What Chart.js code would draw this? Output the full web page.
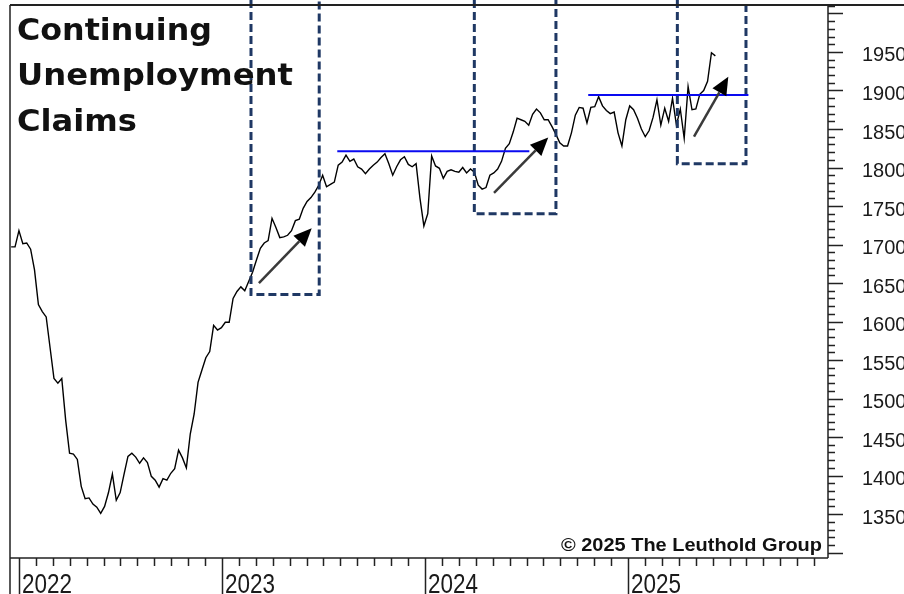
<!DOCTYPE html>
<html>
<head>
<meta charset="utf-8">
<script src="https://cdn.jsdelivr.net/npm/chart.js@4.4.1/dist/chart.umd.min.js"></script>
<style>
  html, body { margin: 0; padding: 0; background: #fff; }
</style>
</head>
<body>
<canvas id="claimsChart" width="904" height="594"></canvas>
<script>
// weekly continuing claims (thousands), first week ending 2021-12-18
const firstWeek = new Date(2021, 11, 18);
const claims = [
  1697, 1697, 1718, 1701, 1702, 1694, 1667, 1622, 1613, 1606,
  1566, 1526, 1520, 1526, 1472, 1429, 1428, 1421, 1386, 1370,
  1371, 1363, 1359, 1351, 1360, 1378, 1402, 1368, 1378, 1402,
  1425, 1429, 1424, 1416, 1423, 1417, 1399, 1394, 1385, 1396,
  1394, 1403, 1409, 1433, 1423, 1410, 1454, 1480, 1521, 1537,
  1553, 1561, 1595, 1589, 1592, 1599, 1599, 1630, 1639, 1645,
  1640, 1652, 1664, 1680, 1695, 1702, 1705, 1734, 1722, 1709,
  1710, 1712, 1718, 1731, 1733, 1747, 1756, 1761, 1768, 1777,
  1790, 1775, 1778, 1781, 1803, 1807, 1816, 1808, 1811, 1801,
  1798, 1792, 1798, 1803, 1807, 1813, 1818, 1805, 1790, 1801,
  1810, 1814, 1804, 1801, 1805, 1760, 1724, 1740, 1815, 1802,
  1799, 1786, 1795, 1797, 1795, 1794, 1800, 1793, 1798, 1794,
  1777, 1772, 1774, 1790, 1793, 1798, 1808, 1825, 1831, 1846,
  1864, 1862, 1860, 1855, 1869, 1876, 1871, 1862, 1862, 1853,
  1843, 1832, 1828, 1828, 1845, 1868, 1878, 1877, 1858, 1878,
  1879, 1892, 1880, 1874, 1870, 1872, 1845, 1828, 1862, 1880,
  1875, 1864, 1850, 1840, 1848, 1865, 1888, 1855, 1877, 1860,
  1890, 1855, 1876, 1838, 1905, 1875, 1876, 1895, 1900, 1912,
  1949, 1945
];

const yearTicks = [2022, 2023, 2024, 2025];
const yMajorLabels = [1350, 1400, 1450, 1500, 1550, 1600, 1650, 1700, 1750, 1800, 1850, 1900, 1950];

// annotations (decimal year / claims level)
const boxStart = [2023.143, 2024.243, 2025.243];
const boxEnd = [2023.479, 2024.645, 2025.581];
const boxBottom = [1635, 1740, 1805];
const lineStart = [2023.568, 2024.804];
const lineEnd = [2024.514, 2025.593];
const lineLevel = [1821, 1894];
const arrowFrom = [[2023.182, 1650], [2024.340, 1767], [2025.325, 1840]];
const arrowTo = [[2023.442, 1721], [2024.607, 1839], [2025.494, 1918]];

const titleLines = ['Continuing', 'Unemployment', 'Claims'];
const creditText = '\u00a9 2025 The Leuthold Group';

function decimalYear(d) {
  const y = d.getFullYear();
  const a = new Date(y, 0, 1);
  const b = new Date(y + 1, 0, 1);
  return y + (d - a) / (b - a);
}

const points = claims.map((v, i) => {
  const d = new Date(firstWeek.getTime() + i * 7 * 86400000);
  return { x: decimalYear(d), y: v };
});

const monthTicks = [];
for (let y = 2022; y <= 2025; y++) {
  for (let m = 0; m < 12; m++) monthTicks.push(y + m / 12);
}
const levelTicks = [];
for (let v = 1300; v <= 2010; v += 10) levelTicks.push(v);

function stretchText(ctx, text, x, y, width) {
  const w = ctx.measureText(text).width;
  ctx.save();
  ctx.translate(x, y);
  ctx.scale(width / w, 1);
  ctx.fillText(text, 0, 0);
  ctx.restore();
}

function noPadding(s) {
  s.paddingTop = 0;
  s.paddingBottom = 0;
  s.paddingLeft = 0;
  s.paddingRight = 0;
}

const overlay = {
  id: 'overlay',
  afterDatasetsDraw(chart) {
    const ctx = chart.ctx;
    const xs = chart.scales.x;
    const ys = chart.scales.y;

    // dashed boxes
    ctx.save();
    ctx.strokeStyle = '#1f3864';
    ctx.lineWidth = 3;
    ctx.setLineDash([8, 4]);
    for (let i = 0; i < boxStart.length; i++) {
      const l = xs.getPixelForValue(boxStart[i]);
      const r = xs.getPixelForValue(boxEnd[i]);
      const b = ys.getPixelForValue(boxBottom[i]);
      ctx.beginPath();
      ctx.moveTo(l, 0);
      ctx.lineTo(l, b);
      ctx.lineTo(r, b);
      ctx.lineTo(r, 0);
      ctx.stroke();
    }
    ctx.restore();

    // resistance lines
    ctx.save();
    ctx.strokeStyle = '#0a0af0';
    ctx.lineWidth = 2;
    for (let i = 0; i < lineStart.length; i++) {
      const y = ys.getPixelForValue(lineLevel[i]);
      ctx.beginPath();
      ctx.moveTo(xs.getPixelForValue(lineStart[i]), y);
      ctx.lineTo(xs.getPixelForValue(lineEnd[i]), y);
      ctx.stroke();
    }
    ctx.restore();

    // arrows
    ctx.save();
    for (let i = 0; i < arrowFrom.length; i++) {
      const x0 = xs.getPixelForValue(arrowFrom[i][0]);
      const y0 = ys.getPixelForValue(arrowFrom[i][1]);
      const x1 = xs.getPixelForValue(arrowTo[i][0]);
      const y1 = ys.getPixelForValue(arrowTo[i][1]);
      const ang = Math.atan2(y1 - y0, x1 - x0);
      const headLen = 18, headW = 8;
      const bx = x1 - headLen * Math.cos(ang);
      const by = y1 - headLen * Math.sin(ang);
      ctx.strokeStyle = '#3a3a3a';
      ctx.lineWidth = 2.5;
      ctx.beginPath();
      ctx.moveTo(x0, y0);
      ctx.lineTo(bx, by);
      ctx.stroke();
      ctx.fillStyle = '#000';
      ctx.beginPath();
      ctx.moveTo(x1, y1);
      ctx.lineTo(bx + headW * Math.sin(ang), by - headW * Math.cos(ang));
      ctx.lineTo(bx - headW * Math.sin(ang), by + headW * Math.cos(ang));
      ctx.closePath();
      ctx.fill();
    }
    ctx.restore();
  },
  afterDraw(chart) {
    const ctx = chart.ctx;
    const a = chart.chartArea;
    const xs = chart.scales.x;
    const ys = chart.scales.y;

    ctx.save();
    ctx.strokeStyle = '#222';
    // frame
    ctx.lineWidth = 2;
    ctx.beginPath();
    ctx.moveTo(a.left, a.top);
    ctx.lineTo(chart.width, a.top);
    ctx.stroke();
    ctx.lineWidth = 1.5;
    ctx.beginPath();
    ctx.moveTo(a.left, a.top);
    ctx.lineTo(a.left, chart.height);
    ctx.moveTo(a.left, a.bottom);
    ctx.lineTo(a.right, a.bottom);
    ctx.moveTo(a.right, a.top);
    ctx.lineTo(a.right, a.bottom);
    ctx.stroke();

    // y ticks
    ctx.beginPath();
    ys.ticks.forEach(t => {
      const y = Math.round(ys.getPixelForValue(t.value)) + 0.5;
      const len = t.value % 50 === 0 ? 15 : 7;
      ctx.moveTo(a.right, y);
      ctx.lineTo(a.right + len, y);
    });
    // x ticks: months short, years full height
    xs.ticks.forEach(t => {
      const x = Math.round(xs.getPixelForValue(t.value)) + 0.5;
      const isYear = Math.abs(t.value - Math.round(t.value)) < 1e-6;
      ctx.moveTo(x, a.bottom);
      ctx.lineTo(x, isYear ? chart.height : a.bottom + 8);
    });
    ctx.stroke();
    ctx.restore();

    // year labels (narrow)
    ctx.save();
    ctx.fillStyle = '#1a1a1a';
    ctx.font = "28px 'Liberation Sans'";
    yearTicks.forEach(y => {
      stretchText(ctx, String(y), xs.getPixelForValue(y) + 3, 593, 50);
    });
    ctx.restore();

    // title
    ctx.save();
    ctx.fillStyle = '#111';
    ctx.textBaseline = 'alphabetic';
    ctx.font = "bold 30px 'DejaVu Sans'";
    stretchText(ctx, titleLines[0], 17, 40, 195);
    stretchText(ctx, titleLines[1], 17, 85, 276);
    stretchText(ctx, titleLines[2], 17, 131, 120);
    // credit
    ctx.font = "bold 18px 'Liberation Sans'";
    stretchText(ctx, creditText, 561, 551, 261);
    ctx.restore();
  }
};

new Chart(document.getElementById('claimsChart'), {
  type: 'line',
  data: {
    datasets: [{
      data: points,
      borderColor: '#000',
      borderWidth: 1.4,
      pointRadius: 0,
      tension: 0,
      fill: false
    }]
  },
  options: {
    responsive: false,
    devicePixelRatio: 1,
    animation: false,
    layout: { padding: { left: 10, top: 5, right: 0, bottom: 0 } },
    plugins: { legend: { display: false }, tooltip: { enabled: false } },
    scales: {
      x: {
        type: 'linear',
        position: 'bottom',
        min: 2021.956,
        max: 2025.985,
        afterBuildTicks: s => { s.ticks = monthTicks.map(v => ({ value: v })); },
        afterFit: s => { s.height = 36; noPadding(s); },
        grid: { display: false, drawTicks: false },
        border: { display: false },
        ticks: { display: false, autoSkip: false, maxRotation: 0, minRotation: 0 }
      },
      y: {
        position: 'right',
        min: 1293,
        max: 2011,
        afterBuildTicks: s => { s.ticks = levelTicks.map(v => ({ value: v })); },
        afterFit: s => { s.width = 76; noPadding(s); },
        grid: { display: false, drawTicks: false },
        border: { display: false },
        ticks: {
          autoSkip: false,
          padding: 34,
          labelOffset: 4,
          color: '#1a1a1a',
          font: { family: "'Liberation Sans'", size: 20 },
          callback: v => yMajorLabels.includes(v) ? String(v) : ''
        }
      }
    }
  },
  plugins: [overlay]
});
</script>
</body>
</html>
